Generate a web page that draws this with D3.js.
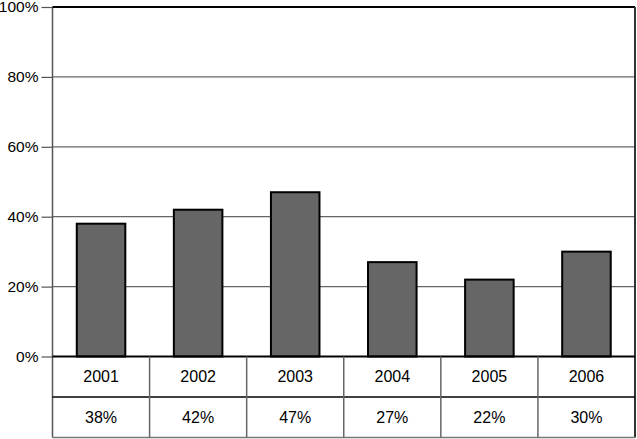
<!DOCTYPE html>
<html><head><meta charset="utf-8">
<script src="https://cdn.jsdelivr.net/npm/d3@7"></script>
<style>body{margin:0;background:#fff}svg{display:block}text{font-family:"Liberation Sans",Arial,sans-serif}</style>
</head><body><svg id="c" width="637" height="439"></svg>
<script>
const categories = ["2001","2002","2003","2004","2005","2006"];
const values = [38,42,47,27,22,30];
const yTicks = [0,20,40,60,80,100];

const svg = d3.select("#c");
const L = 52.5, R = 635, T = 7, B = 356.5, rowH = 40.5;
const x = d3.scaleBand().domain(categories).range([L, R]).paddingInner(0).paddingOuter(0);
const y = d3.scaleLinear().domain([0,100]).range([B, T]);

// gridlines
svg.append("g").selectAll("line").data(yTicks.filter(d=>d>0 && d<100)).join("line")
  .attr("x1", L).attr("x2", R).attr("y1", d=>y(d)).attr("y2", d=>y(d))
  .attr("stroke", "#666").attr("stroke-width", 1.2);

// y axis
const yAxis = d3.axisLeft(y).tickValues(yTicks).tickFormat(d=>d+"%").tickSize(11).tickPadding(3);
const ga = svg.append("g").attr("transform", `translate(${L},0)`).call(yAxis);
ga.select(".domain").remove();
ga.selectAll(".tick line").attr("stroke", "#555").attr("stroke-width", 1.2);
ga.selectAll(".tick text").attr("font-size", 15.5).attr("fill", "#000");

// bars
svg.append("g").selectAll("rect").data(values).join("rect")
  .attr("x", (d,i)=>x(categories[i]) + x.bandwidth()*0.25)
  .attr("width", x.bandwidth()*0.5)
  .attr("y", d=>y(d)).attr("height", d=>B - y(d))
  .attr("fill", "#666").attr("stroke", "#000").attr("stroke-width", 2);

// frame
svg.append("line").attr("x1", L).attr("x2", L).attr("y1", T).attr("y2", B + 2*rowH).attr("stroke", "#555").attr("stroke-width", 1.5);
svg.append("line").attr("x1", L).attr("x2", R).attr("y1", T).attr("y2", T).attr("stroke", "#000").attr("stroke-width", 2);
svg.append("line").attr("x1", R).attr("x2", R).attr("y1", T).attr("y2", B + 2*rowH).attr("stroke", "#333").attr("stroke-width", 2);
svg.append("line").attr("x1", L).attr("x2", R).attr("y1", B).attr("y2", B).attr("stroke", "#000").attr("stroke-width", 2);

// table
const tb = svg.append("g");
tb.append("line").attr("x1", L).attr("x2", R).attr("y1", B+rowH).attr("y2", B+rowH).attr("stroke", "#000").attr("stroke-width", 1.3);
tb.append("line").attr("x1", L).attr("x2", R).attr("y1", B+2*rowH).attr("y2", B+2*rowH).attr("stroke", "#777").attr("stroke-width", 1.5);
tb.selectAll("line.v").data(categories.slice(1)).join("line").attr("class","v")
  .attr("x1", d=>x(d)).attr("x2", d=>x(d)).attr("y1", B).attr("y2", B+2*rowH)
  .attr("stroke", "#666").attr("stroke-width", 1.5);
tb.selectAll("text.cat").data(categories).join("text").attr("class","cat")
  .attr("x", d=>x(d)+x.bandwidth()/2).attr("y", B+rowH/2+5.5)
  .attr("text-anchor","middle").attr("font-size",16).text(d=>d);
tb.selectAll("text.val").data(values).join("text").attr("class","val")
  .attr("x", (d,i)=>x(categories[i])+x.bandwidth()/2).attr("y", B+1.5*rowH+5.5)
  .attr("text-anchor","middle").attr("font-size",16).text(d=>d+"%");
</script></body></html>
